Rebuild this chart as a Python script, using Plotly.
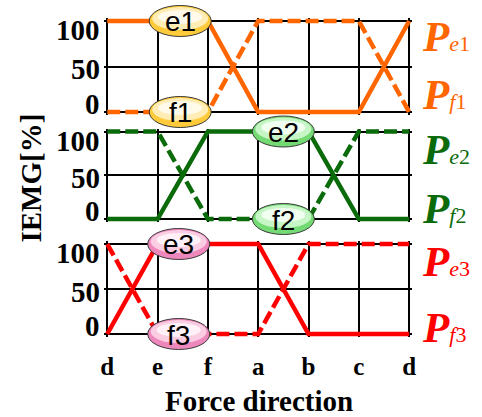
import plotly.graph_objects as go

# Force directions around the circle (the first one repeats at the end)
directions = ["d", "e", "f", "a", "b", "c", "d"]

# Normalised IEMG [%] of extensor (e) and flexor (f) muscle pairs 1-3
pe1 = [100, 100, 100, 0, 0, 0, 100]
pf1 = [0, 0, 0, 100, 100, 100, 0]
pe2 = [0, 0, 100, 100, 100, 0, 0]
pf2 = [100, 100, 0, 0, 0, 100, 100]
pe3 = [0, 100, 100, 100, 0, 0, 0]
pf3 = [100, 0, 0, 0, 100, 100, 100]

y_ticks = [0, 50, 100]
pair_ids = ["1", "2", "3"]

colors = ["#FF6600", "#0B6B0B", "#FF0000"]
# ellipse fills: outer rim, middle, highlight
ellipse_fills = [
    ["#FFCB3A", "#FFEDB5", "#FFFAEA"],
    ["#74DA74", "#C6F6C6", "#F0FFF0"],
    ["#EE88BC", "#FACDE2", "#FFF1F7"],
]

W, H = 482, 417
X0_PX, X1_PX = 105, 412                          # pixel columns of first / last direction
PANEL_PX = [(21, 112), (131.5, 219), (244, 334)]  # pixel rows of 100 % and 0 %
PAD = 3                                           # keeps thick lines at the frame unclipped

SERIF = "Liberation Serif"
SANS = "Liberation Sans"

series = [(pe1, pf1), (pe2, pf2), (pe3, pf3)]
label_x = [1.45, 3.5, 1.42]          # where the e/f tags sit along the x axis
p_shift = [(-16, 17), (-18, 11), (-17, 7)]
tick_shift = {100: -9, 50: -3, 0: 8}

x_idx = list(range(len(directions)))
n = len(directions) - 1
xs = (X1_PX - X0_PX) / n
x_range = [-PAD / xs, n + PAD / xs]
x_domain = [(X0_PX - PAD) / W, (X1_PX + PAD) / W]

fig = go.Figure()
shapes = []
annotations = []

for i, ((pe, pf), (top, bot)) in enumerate(zip(series, PANEL_PX)):
    k = i + 1
    xa, ya = f"x{k}", f"y{k}"
    ys = (bot - top) / 100.0
    y_range = [-PAD / ys, 100 + PAD / ys]
    y_domain = [1 - (bot + PAD) / H, 1 - (top - PAD) / H]

    fig.add_trace(go.Scatter(
        x=x_idx, y=pf, mode="lines", xaxis=xa, yaxis=ya, showlegend=False,
        line=dict(color=colors[i], width=4.5, dash="13px,5px"),
    ))
    fig.add_trace(go.Scatter(
        x=x_idx, y=pe, mode="lines", xaxis=xa, yaxis=ya, showlegend=False,
        line=dict(color=colors[i], width=4.5),
    ))

    last = i == len(series) - 1
    fig.update_layout({
        f"xaxis{k}": dict(
            domain=x_domain, range=x_range, anchor=ya,
            tickvals=x_idx, ticktext=directions,
            showticklabels=last, ticks="",
            showgrid=True, gridcolor="black", gridwidth=2,
            zeroline=False, showline=False, fixedrange=True,
            tickfont=dict(family=SERIF, size=25, color="black", weight="bold"),
            ticklabelstandoff=12,
        ),
        f"yaxis{k}": dict(
            domain=y_domain, range=y_range, anchor=xa,
            tickvals=y_ticks, showticklabels=False, ticks="",
            showgrid=True, gridcolor="black", gridwidth=2,
            zeroline=False, showline=False, fixedrange=True,
        ),
    })

    # y tick labels
    for v in y_ticks:
        annotations.append(dict(
            text=str(v), xref="paper", yref=ya, x=(X0_PX - 5) / W, y=v,
            xanchor="right", yanchor="middle", yshift=tick_shift[v], showarrow=False,
            font=dict(family=SERIF, size=29, color="black", weight="bold"),
        ))

    # e/f tags on the flat stretches; paper-referenced so they may overhang the frame
    px_x = (X0_PX + label_x[i] * xs) / W
    for kind, yv in (("e", 100), ("f", 0)):
        px_y = 1 - (bot - yv * ys) / H
        rim, mid, hi = ellipse_fills[i]
        for w, h, dy, fill, border in ((31, 15.5, 0, rim, 1),
                                       (28, 11.5, 2.5, mid, 0),
                                       (22, 7, 4, hi, 0)):
            shapes.append(dict(
                type="circle", layer="above", xref="paper", yref="paper",
                xsizemode="pixel", ysizemode="pixel",
                xanchor=px_x, yanchor=px_y,
                x0=-w, x1=w, y0=-h + dy, y1=h + dy,
                fillcolor=fill,
                line=dict(color="#3A3A3A", width=border),
            ))
        annotations.append(dict(
            text=f"{kind}{pair_ids[i]}", xref=xa, yref=ya, x=label_x[i], y=yv,
            xanchor="center", yanchor="middle", showarrow=False, yshift=-1,
            font=dict(family=SANS, size=28, color="black"),
        ))

    # series names on the right
    for kind, yv, sh in (("e", 100, p_shift[i][0]), ("f", 0, p_shift[i][1])):
        annotations.append(dict(
            text=(f"<b><i>P</i></b><span style='font-size:22px'>"
                  f"<i>{kind}</i>{pair_ids[i]}</span>"),
            xref="paper", yref=ya, x=423 / W, y=yv, yshift=sh,
            xanchor="left", yanchor="middle", showarrow=False,
            font=dict(family=SERIF, size=43, color=colors[i]),
        ))

annotations.append(dict(
    text="IEMG[%]", xref="paper", yref="paper", x=27 / W, y=1 - 178 / H,
    xanchor="center", yanchor="middle", textangle=-90, showarrow=False,
    font=dict(family=SERIF, size=29, color="black", weight="bold"),
))
annotations.append(dict(
    text="Force direction", xref="paper", yref="paper", x=259.5 / W, y=1 - 401 / H,
    xanchor="center", yanchor="middle", showarrow=False,
    font=dict(family=SERIF, size=29, color="black", weight="bold"),
))

fig.update_layout(
    width=W, height=H,
    margin=dict(l=0, r=0, t=0, b=0),
    paper_bgcolor="white", plot_bgcolor="white",
    shapes=shapes, annotations=annotations,
    showlegend=False,
)

fig.write_html("out.html", config={"displayModeBar": False})
